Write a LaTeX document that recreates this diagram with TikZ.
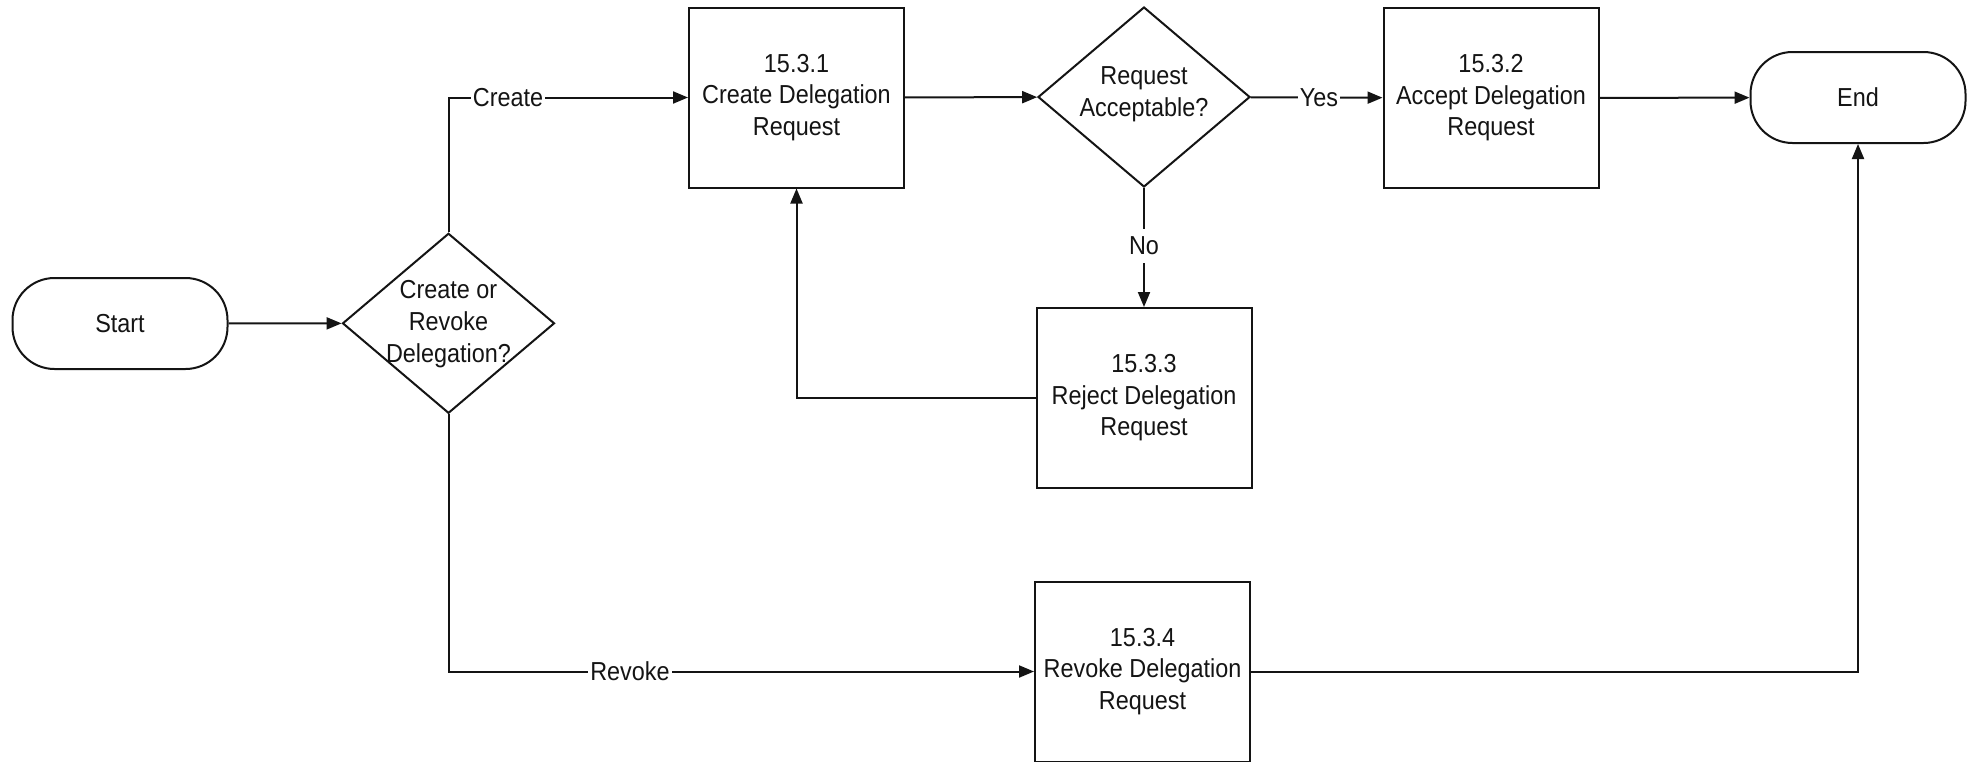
\documentclass[tikz,border=0pt]{standalone}
\usepackage{fontspec}
\setmainfont{Liberation Sans}[FakeStretch=0.9]
\usetikzlibrary{shapes.geometric,arrows.meta}
\definecolor{ink}{HTML}{141414}
\tikzset{
  base/.style={draw=ink, line width=1pt, text=ink, font=\fontsize{13}{15.75}\selectfont, align=center, inner sep=0pt},
  term/.style={base, rectangle, rounded corners=21pt, minimum width=107.5pt, minimum height=45.5pt},
  proc/.style={base, rectangle, minimum width=107.5pt, minimum height=90pt},
  dec/.style={draw=ink, line width=1pt, diamond, minimum width=106pt, minimum height=90pt, inner sep=0pt},
  txt/.style={text=ink, font=\fontsize{13}{16}\selectfont, align=center, inner sep=0pt},
  lbl/.style={text=ink, font=\fontsize{13}{15}\selectfont, fill=white, inner sep=1pt},
  arr/.style={draw=ink, line width=1pt, -{Triangle[length=7.5pt,width=6pt]}}
}
\begin{document}
\begin{tikzpicture}[x=0.5pt, y=-0.5pt]
\fill[white] (0,0) rectangle (1980,761);
\useasboundingbox (0,0) rectangle (1980,761);

\node[term] (start) at (120,323.5) {Start};
\node[dec] (d1) at (448.5,323.3) {};
\node[txt] (d1t) at (448.5,324) {Create or\\Revoke\\Delegation?};
\node[proc] (b1) at (796.5,97.5) {15.3.1\\Create Delegation\\Request};
\node[dec] (d2) at (1144,97) {};
\node[txt] (d2t) at (1144,94) {Request\\Acceptable?};
\node[proc] (b2) at (1491,98) {15.3.2\\Accept Delegation\\Request};
\node[term] (end) at (1858,97.5) {End};
\node[proc] (b3) at (1144,398) {15.3.3\\Reject Delegation\\Request};
\node[proc] (b4) at (1142.5,671.5) {15.3.4\\Revoke Delegation\\Request};

\draw[arr] (start) -- (d1);
\draw[arr] (d1.north) |- (b1.west);
\node[lbl] (lcreate) at (508,97.5) {Create};
\draw[arr] (b1) -- (d2);
\draw[arr] (d2) -- (b2);
\node[lbl] (lyes) at (1319,97.5) {Yes};
\draw[arr] (b2) -- (end);
\draw[arr] (d2.south) -- (b3.north);
\node[lbl, inner ysep=4pt] (lno) at (1144,246) {No};
\draw[arr] (b3.west) -| (b1.south);
\draw[arr] (d1.south) |- (b4.west);
\node[lbl] (lrevoke) at (630,671.5) {Revoke};
\draw[arr] (b4.east) -| (end.south);
\end{tikzpicture}
\end{document}
